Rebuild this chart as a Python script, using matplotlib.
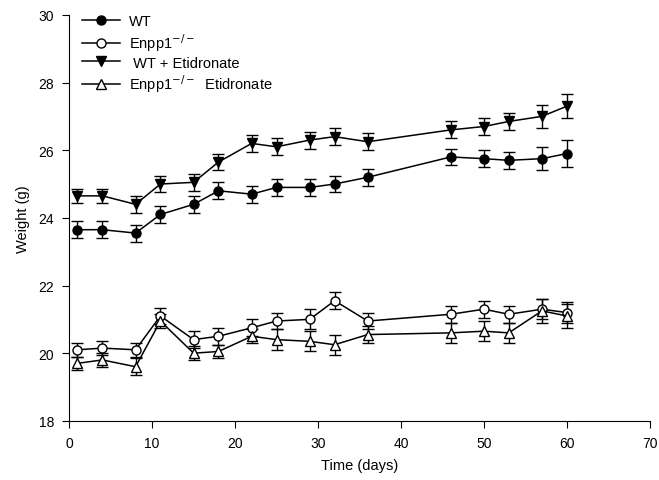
import numpy as np
import matplotlib
matplotlib.use("Agg")
import matplotlib.pyplot as plt

plt.rcParams['font.family'] = ['Liberation Sans', 'DejaVu Sans']

# days of measurement
days = [1, 4, 8, 11, 15, 18, 22, 25, 29, 32, 36, 46, 50, 53, 57, 60]

# mean weights (g)
wt = [23.65, 23.65, 23.55, 24.1, 24.4, 24.8, 24.7, 24.9, 24.9, 25.0, 25.2, 25.8, 25.75, 25.7, 25.75, 25.9]
enpp1 = [20.1, 20.15, 20.1, 21.1, 20.4, 20.5, 20.75, 20.95, 21.0, 21.55, 20.95, 21.15, 21.3, 21.15, 21.3, 21.2]
wt_eti = [24.65, 24.65, 24.4, 25.0, 25.05, 25.65, 26.2, 26.1, 26.3, 26.4, 26.25, 26.6, 26.7, 26.85, 27.0, 27.3]
enpp1_eti = [19.7, 19.8, 19.6, 20.95, 20.0, 20.05, 20.5, 20.4, 20.35, 20.25, 20.55, 20.6, 20.65, 20.6, 21.25, 21.1]

# error bars
wt_err = [0.25, 0.25, 0.25, 0.25, 0.25, 0.25, 0.25, 0.25, 0.25, 0.25, 0.25, 0.25, 0.25, 0.25, 0.35, 0.4]
enpp1_err = [0.2, 0.2, 0.2, 0.25, 0.25, 0.25, 0.25, 0.25, 0.3, 0.25, 0.25, 0.25, 0.25, 0.25, 0.3, 0.3]
wt_eti_err = [0.2, 0.2, 0.25, 0.25, 0.25, 0.25, 0.25, 0.25, 0.25, 0.25, 0.25, 0.25, 0.25, 0.25, 0.35, 0.35]
enpp1_eti_err = [0.2, 0.2, 0.25, 0.2, 0.2, 0.2, 0.2, 0.3, 0.3, 0.3, 0.25, 0.3, 0.3, 0.3, 0.35, 0.35]

fig = plt.figure(figsize=(6.59, 4.81), dpi=100)
ax = fig.add_axes([0.105, 0.123, 0.881, 0.844])

kw = dict(color='black', lw=1.1, capsize=4.5, elinewidth=1.0, capthick=1.0, ms=6.5)
c1 = ax.errorbar(days, wt, yerr=wt_err, fmt='-o', mfc='black', **kw)
c2 = ax.errorbar(days, enpp1, yerr=enpp1_err, fmt='-o', mfc='white', **kw)
c3 = ax.errorbar(days, wt_eti, yerr=wt_eti_err, fmt='-v', mfc='black', **kw)
c4 = ax.errorbar(days, enpp1_eti, yerr=enpp1_eti_err, fmt='-^', mfc='white', **kw)

ax.set_xlim(0, 70)
ax.set_ylim(18, 30)
ax.set_xticks(np.arange(0, 71, 10))
ax.set_yticks(np.arange(18, 31, 2))
ax.spines['top'].set_visible(False)
ax.spines['right'].set_visible(False)
ax.tick_params(direction='out', length=5, labelsize=10, pad=6)
ax.set_xlabel('Time (days)', fontsize=10.5, labelpad=6)
ax.set_ylabel('Weight (g)', fontsize=10.5, labelpad=6)

labels = ['WT', 'Enpp1$^{-/-}$', ' WT + Etidronate', 'Enpp1$^{-/-}$  Etidronate']
ax.legend([c1[0], c2[0], c3[0], c4[0]], labels, loc='upper left', frameon=False,
          fontsize=10.5, handlelength=2.6, borderaxespad=0.1, labelspacing=0.2,
          handletextpad=0.6, bbox_to_anchor=(0.01, 1.02))

fig.savefig('out.png', dpi=100)
